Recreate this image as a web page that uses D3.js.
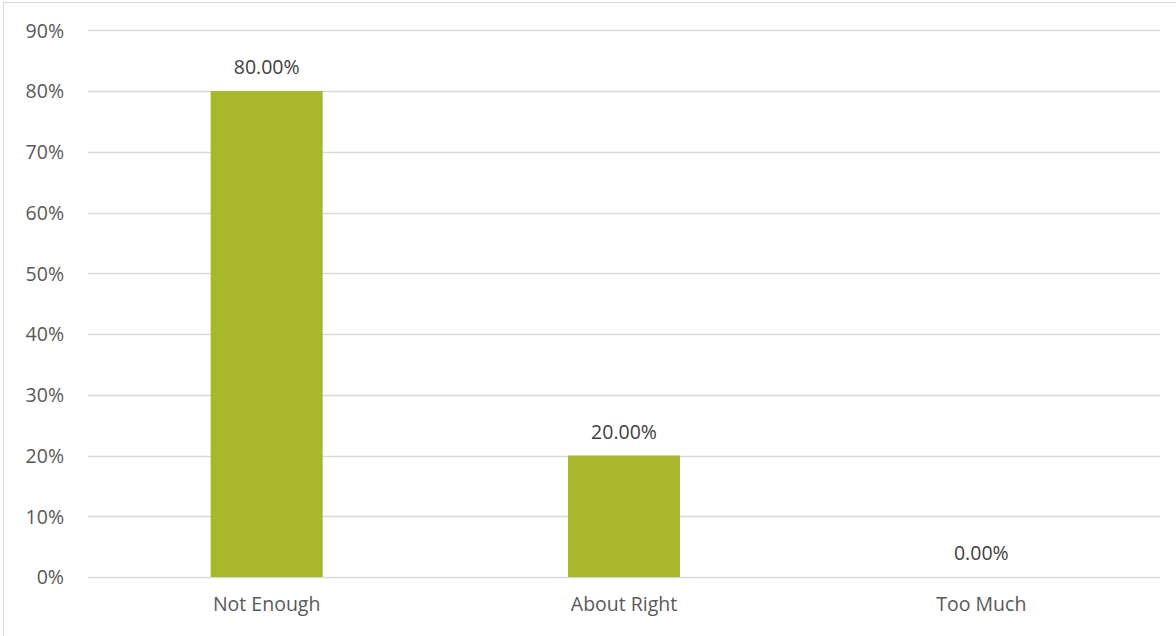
<!DOCTYPE html>
<html><head><meta charset="utf-8">
<script src="https://cdn.jsdelivr.net/npm/d3@7"></script>
<style>
html,body{margin:0;padding:0;background:#fff;}
svg{display:block;}
text{font-family:"Open Sans","Noto Sans",sans-serif;}
</style></head>
<body><svg id="c" width="1176" height="636"></svg>
<script>
const categories = ["Not Enough", "About Right", "Too Much"];
const values = [0.80, 0.20, 0.00];
const yTicks = [0, 0.1, 0.2, 0.3, 0.4, 0.5, 0.6, 0.7, 0.8, 0.9];

const svg = d3.select("#c");
svg.append("rect").attr("x", 3.5).attr("y", 2.5).attr("width", 1180).attr("height", 640)
  .attr("fill", "#fff").attr("stroke", "#d9d9d9").attr("stroke-width", 1);

const x = d3.scaleBand().domain(categories).range([88, 1160]).padding(0);
const y = d3.scaleLinear().domain([0, 0.9]).range([577, 30.3]);
const barW = 112;
const fs = "19.5px";

const grid = svg.append("g");
grid.selectAll("line").data(yTicks).join("line")
  .attr("x1", 88).attr("x2", 1160)
  .attr("y1", d => Math.round(y(d)) + 0.5).attr("y2", d => Math.round(y(d)) + 0.5)
  .attr("stroke", "#d9d9d9").attr("stroke-width", 1.5);

const yAxis = d3.axisLeft(y).tickValues(yTicks).tickFormat(d3.format(".0%")).tickSize(0).tickPadding(0);
const ya = svg.append("g").attr("transform", "translate(64,0)").call(yAxis);
ya.select(".domain").remove();
ya.selectAll("text").attr("fill", "#595959").style("font-size", fs).attr("dy", "0.35em");

svg.append("g").selectAll("rect").data(values).join("rect")
  .attr("x", (d, i) => x(categories[i]) + x.bandwidth() / 2 - barW / 2)
  .attr("width", barW)
  .attr("y", d => y(d))
  .attr("height", d => y(0) - y(d))
  .attr("fill", "#a7b82a");

svg.append("g").selectAll("text").data(values).join("text")
  .attr("x", (d, i) => x(categories[i]) + x.bandwidth() / 2)
  .attr("y", d => y(d) - 17)
  .attr("text-anchor", "middle")
  .attr("fill", "#404040").style("font-size", fs)
  .text(d => d3.format(".2%")(d));

const xAxis = d3.axisBottom(x).tickSize(0).tickPadding(0);
const xa = svg.append("g").attr("transform", "translate(0,604)").call(xAxis);
xa.select(".domain").remove();
xa.selectAll("text").attr("fill", "#595959").style("font-size", fs).attr("dy", "0.35em");
</script></body></html>
